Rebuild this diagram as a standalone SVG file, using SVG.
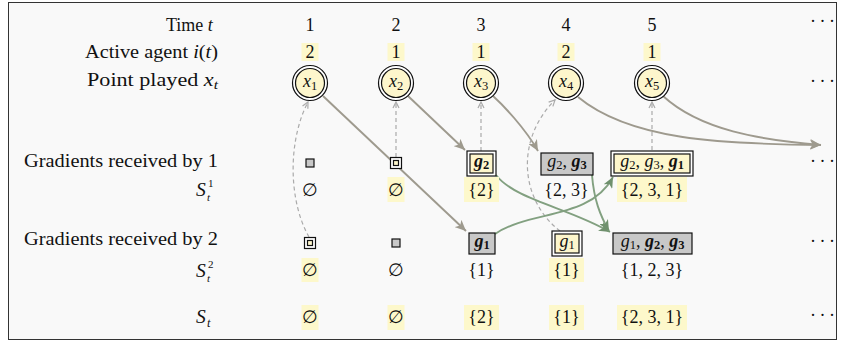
<svg xmlns="http://www.w3.org/2000/svg" width="845" height="342" viewBox="0 0 845 342">
<defs>
<style>
text{font-family:"Liberation Serif","DejaVu Serif",serif;font-size:18px;fill:#111}
.c{text-anchor:middle}
.i{font-style:italic}
.b{font-weight:bold}
.hl{fill:#fdf8cb}
.grey{fill:#c8c8c8;stroke:#111;stroke-width:1.2}
.dbo{fill:#fff;stroke:#111;stroke-width:1.2}
.dbi{fill:#fdf6cc;stroke:#111;stroke-width:1.2}
.solid{fill:none;stroke:#9e9a8e;stroke-width:1.9}
.green{fill:none;stroke:#82a080;stroke-width:1.9}
.dash{fill:none;stroke:#aaaaaa;stroke-width:1.2;stroke-dasharray:4 3}
.sub{font-size:12.5px}
.ss{font-size:11px}
.cal{font-size:19.5px;font-style:italic}
.dots{letter-spacing:3.5px}
</style>
<marker id="ag" viewBox="0 0 12 10" markerWidth="12" markerHeight="10" refX="11" refY="5" orient="auto" markerUnits="userSpaceOnUse"><path d="M0,0 L11,5 L0,10 L3,5 z" fill="#9e9a8e"/></marker>
<marker id="agr" viewBox="0 0 12 10" markerWidth="12" markerHeight="10" refX="11" refY="5" orient="auto" markerUnits="userSpaceOnUse"><path d="M0,0 L11,5 L0,10 L3,5 z" fill="#6f906d"/></marker>
<marker id="ad" viewBox="0 0 8 8" markerWidth="8" markerHeight="8" refX="7" refY="4" orient="auto" markerUnits="userSpaceOnUse"><path d="M1,1 L7,4 L1,7" fill="none" stroke="#aaaaaa" stroke-width="1.2"/></marker>
</defs>
<rect x="8.5" y="2.5" width="828" height="337" fill="#f9f9f9" stroke="#333" stroke-width="1"/>

<!-- row labels -->
<g id="labels">
<text x="166" y="31">Time <tspan class="i">t</tspan></text>
<text x="85" y="58" textLength="133" lengthAdjust="spacingAndGlyphs">Active agent <tspan class="i">i</tspan>(<tspan class="i">t</tspan>)</text>
<text x="87" y="86" textLength="131" lengthAdjust="spacingAndGlyphs">Point played <tspan class="i">x</tspan><tspan class="sub i" dy="3">t</tspan></text>
<text x="24" y="167" textLength="194" lengthAdjust="spacingAndGlyphs">Gradients received by 1</text>
<text x="196" y="196" class="cal">S</text><text x="207" y="201" class="ss i">t</text><text x="208" y="187" class="ss">1</text>
<text x="24" y="245" textLength="194" lengthAdjust="spacingAndGlyphs">Gradients received by 2</text>
<text x="196" y="277" class="cal">S</text><text x="207" y="282" class="ss i">t</text><text x="208" y="268" class="ss">2</text>
<text x="196" y="323" class="cal">S</text><text x="207" y="327" class="sub i">t</text>
</g>

<!-- time row -->
<g id="time">
<text class="c" x="310" y="31">1</text>
<text class="c" x="396" y="31">2</text>
<text class="c" x="481" y="31">3</text>
<text class="c" x="566" y="31">4</text>
<text class="c" x="652" y="31">5</text>
<text class="dots" x="810" y="27">···</text>
</g>

<!-- active agent row -->
<g id="agents">
<rect class="hl" x="301.5" y="43" width="17" height="18"/><text class="c" x="310" y="58">2</text>
<rect class="hl" x="387.5" y="43" width="17" height="18"/><text class="c" x="396" y="58">1</text>
<rect class="hl" x="472.5" y="43" width="17" height="18"/><text class="c" x="481" y="58">1</text>
<rect class="hl" x="557.5" y="43" width="17" height="18"/><text class="c" x="566" y="58">2</text>
<rect class="hl" x="643.5" y="43" width="17" height="18"/><text class="c" x="652" y="58">1</text>
</g>

<!-- connectors -->
<g id="connectors">
<path class="solid" d="M323 96 L466 231" marker-end="url(#ag)"/>
<path class="solid" d="M408 96 L465 150" marker-end="url(#ag)"/>
<path class="solid" d="M493 96 C503 105 525 128 538 151" marker-end="url(#ag)"/>
<path class="solid" d="M578 97 C630 140 720 144 821 145" marker-end="url(#ag)"/>
<path class="solid" d="M663 96 C700 130 760 140 821 145" marker-end="url(#ag)"/>
<path class="dash" d="M309 237 C288 200 288 140 308 102" marker-end="url(#ad)"/>
<path class="dash" d="M396 157 L396 102" marker-end="url(#ad)"/>
<path class="dash" d="M481 151 L481 102" marker-end="url(#ad)"/>
<path class="dash" d="M560 231 C520 200 515 140 555 100" marker-end="url(#ad)"/>
<path class="dash" d="M652 150 L652 102" marker-end="url(#ad)"/>
<path class="green" d="M496 175 C515 200 570 208 610 232" marker-end="url(#agr)"/>
<path class="green" d="M495 234 C530 210 590 220 613 177" marker-end="url(#agr)"/>
<path class="green" d="M592 175 C594 200 600 215 609 231" marker-end="url(#agr)"/>
</g>

<!-- points played -->
<g id="x1"><circle cx="310" cy="83" r="17.5" class="dbo"/><circle cx="310" cy="83" r="14.5" class="dbi"/><text class="c" x="310" y="87"><tspan class="i">x</tspan><tspan class="sub" dy="3">1</tspan></text></g>
<g id="x2"><circle cx="396" cy="83" r="17.5" class="dbo"/><circle cx="396" cy="83" r="14.5" class="dbi"/><text class="c" x="396" y="87"><tspan class="i">x</tspan><tspan class="sub" dy="3">2</tspan></text></g>
<g id="x3"><circle cx="481" cy="83" r="17.5" class="dbo"/><circle cx="481" cy="83" r="14.5" class="dbi"/><text class="c" x="481" y="87"><tspan class="i">x</tspan><tspan class="sub" dy="3">3</tspan></text></g>
<g id="x4"><circle cx="566" cy="83" r="17.5" class="dbo"/><circle cx="566" cy="83" r="14.5" class="dbi"/><text class="c" x="566" y="87"><tspan class="i">x</tspan><tspan class="sub" dy="3">4</tspan></text></g>
<g id="x5"><circle cx="652" cy="83" r="17.5" class="dbo"/><circle cx="652" cy="83" r="14.5" class="dbi"/><text class="c" x="652" y="87"><tspan class="i">x</tspan><tspan class="sub" dy="3">5</tspan></text></g>
<g id="dots-x"><text class="dots" x="810" y="87">···</text></g>

<!-- gradients received by 1 -->
<g id="g1-1"><rect class="grey" x="306" y="159" width="8" height="8"/></g>
<g id="g1-2"><rect class="dbo" x="390.5" y="157.5" width="11" height="11"/><rect class="dbi" x="393.5" y="160.5" width="5" height="5"/></g>
<g id="g1-3"><rect class="dbo" x="467" y="151" width="29" height="25"/><rect class="dbi" x="470" y="154" width="23" height="19"/><text class="c b" x="481.5" y="167"><tspan class="i">g</tspan><tspan class="sub" dy="2">2</tspan></text></g>
<g id="g1-4"><rect class="grey" x="541" y="153" width="52" height="22"/><text class="c" x="567" y="167"><tspan class="i">g</tspan><tspan class="sub" dy="2">2</tspan><tspan dy="-2">, </tspan><tspan class="i b">g</tspan><tspan class="sub b" dy="2">3</tspan></text></g>
<g id="g1-5"><rect class="dbo" x="611" y="151" width="82" height="25"/><rect class="dbi" x="614" y="154" width="76" height="19"/><text class="c" x="652" y="167"><tspan class="i">g</tspan><tspan class="sub" dy="2">2</tspan><tspan dy="-2">, </tspan><tspan class="i">g</tspan><tspan class="sub" dy="2">3</tspan><tspan dy="-2">, </tspan><tspan class="i b">g</tspan><tspan class="sub b" dy="2">1</tspan></text></g>
<g id="dots-g1"><text class="dots" x="810" y="167">···</text></g>

<!-- S^1 sets -->
<g id="s1">
<text class="c" x="310" y="196">∅</text>
<rect class="hl" x="387.5" y="177" width="17" height="25"/><text class="c" x="396" y="196">∅</text>
<rect class="hl" x="464" y="177" width="35" height="25"/><text class="c" x="481.5" y="196">{2}</text>
<text class="c" x="566.5" y="196">{2, 3}</text>
<rect class="hl" x="617" y="177" width="70" height="25"/><text class="c" x="652" y="196">{2, 3, 1}</text>
</g>

<!-- gradients received by 2 -->
<g id="g2-1"><rect class="dbo" x="304.5" y="237.5" width="11" height="11"/><rect class="dbi" x="307.5" y="240.5" width="5" height="5"/></g>
<g id="g2-2"><rect class="grey" x="392" y="239" width="8" height="8"/></g>
<g id="g2-3"><rect class="grey" x="469" y="233" width="26" height="21"/><text class="c b" x="482" y="247"><tspan class="i">g</tspan><tspan class="sub" dy="2">1</tspan></text></g>
<g id="g2-4"><rect class="dbo" x="552" y="231" width="30" height="25"/><rect class="dbi" x="555" y="234" width="24" height="19"/><text class="c" x="567" y="247"><tspan class="i">g</tspan><tspan class="sub" dy="2">1</tspan></text></g>
<g id="g2-5"><rect class="grey" x="613" y="233" width="79" height="21"/><text class="c" x="652.5" y="247"><tspan class="i">g</tspan><tspan class="sub" dy="2">1</tspan><tspan dy="-2">, </tspan><tspan class="i b">g</tspan><tspan class="sub b" dy="2">2</tspan><tspan dy="-2">, </tspan><tspan class="i b">g</tspan><tspan class="sub b" dy="2">3</tspan></text></g>
<g id="dots-g2"><text class="dots" x="810" y="247">···</text></g>

<!-- S^2 sets -->
<g id="s2">
<rect class="hl" x="301.5" y="258" width="17" height="24"/><text class="c" x="310" y="276">∅</text>
<text class="c" x="396" y="276">∅</text>
<text class="c" x="481.5" y="276">{1}</text>
<rect class="hl" x="549" y="258" width="35" height="24"/><text class="c" x="566.5" y="276">{1}</text>
<text class="c" x="652" y="276">{1, 2, 3}</text>
</g>

<!-- S sets -->
<g id="s">
<rect class="hl" x="301.5" y="305" width="17" height="25"/><text class="c" x="310" y="323">∅</text>
<rect class="hl" x="387.5" y="305" width="17" height="25"/><text class="c" x="396" y="323">∅</text>
<rect class="hl" x="464" y="305" width="35" height="25"/><text class="c" x="481.5" y="323">{2}</text>
<rect class="hl" x="549" y="305" width="35" height="25"/><text class="c" x="566.5" y="323">{1}</text>
<rect class="hl" x="617" y="305" width="70" height="25"/><text class="c" x="652" y="323">{2, 3, 1}</text>
<text class="dots" x="810" y="321">···</text>
</g>
</svg>
